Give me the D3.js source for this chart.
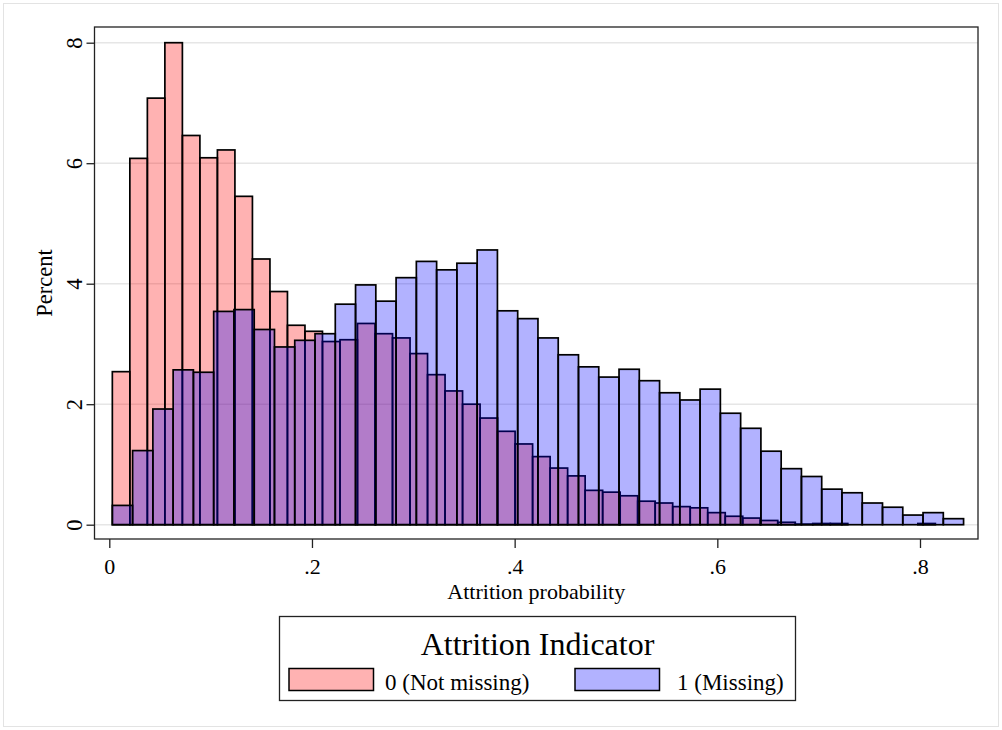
<!DOCTYPE html>
<html lang="en">
<head>
    <meta charset="UTF-8">
    <script src="https://cdn.jsdelivr.net/npm/d3@7"></script>
    <title>Attrition probability histogram</title>
    <style>
        body {
            margin: 0;
            background: white;
        }
        svg text {
            font-family: "Liberation Serif", "Times New Roman", serif;
            fill: black;
        }
    </style>
</head>
<body>
    <div class="fig"></div>

    <script>
        // histogram bins: start of first bin, bin width, percent in each bin
        const pinkStart = 0.003;
        const pinkWidth = 0.01728;
        const pinkPct = [2.54, 6.08, 7.08, 8.00, 6.46, 6.09, 6.22, 5.45, 4.41, 3.87,
            3.31, 3.21, 3.04, 3.07, 3.34, 3.17, 3.10, 2.84, 2.49, 2.22,
            2.00, 1.77, 1.55, 1.34, 1.13, 0.94, 0.81, 0.57, 0.54, 0.48,
            0.39, 0.36, 0.30, 0.28, 0.20, 0.14, 0.11, 0.07, 0.04, 0.01,
            0.02, 0.02, 0, 0, 0, 0, 0.02];

        const blueStart = 0.003;
        const blueWidth = 0.02;
        const bluePct = [0.32, 1.23, 1.92, 2.57, 2.53, 3.54, 3.57, 3.24, 2.95, 3.06,
            3.17, 3.66, 3.98, 3.71, 4.10, 4.37, 4.23, 4.34, 4.56, 3.55,
            3.42, 3.10, 2.82, 2.62, 2.45, 2.58, 2.39, 2.19, 2.07, 2.25,
            1.85, 1.60, 1.22, 0.93, 0.80, 0.59, 0.53, 0.36, 0.29, 0.16,
            0.20, 0.10];

        const xTicks = [0, 0.2, 0.4, 0.6, 0.8];
        const yTicks = [0, 2, 4, 6, 8];
        const legendTitle = "Attrition Indicator";
        const seriesNames = ["0 (Not missing)", "1 (Missing)"];

        const width = 1002, height = 730;
        const plot = {left: 94.5, right: 978, top: 27, bottom: 539};

        const svg = d3.select(".fig").append("svg")
            .attr("width", width)
            .attr("height", height);

        // outer graph border
        svg.append("rect")
            .attr("x", 3.5).attr("y", 3.5)
            .attr("width", width - 7).attr("height", height - 7)
            .attr("fill", "white")
            .attr("stroke", "#e3e3e3");

        const x = d3.scaleLinear().domain([0, 0.8]).range([109.3, 920]);
        const y = d3.scaleLinear().domain([0, 8]).range([524.7, 42.7]);

        // grid
        svg.append("g").selectAll("line")
            .data(yTicks)
            .enter()
            .append("line")
            .attr("x1", plot.left).attr("x2", plot.right)
            .attr("y1", d => y(d)).attr("y2", d => y(d))
            .attr("stroke", "#e6e6e6")
            .attr("stroke-width", 1.5);

        const toBins = (pct, start, w) => pct.map((v, i) => ({x0: start + i * w, x1: start + (i + 1) * w, v: v}))
            .filter(d => d.v > 0);

        const drawBars = (bins, color) => {
            svg.append("g").selectAll("rect")
                .data(bins)
                .enter()
                .append("rect")
                .attr("x", d => x(d.x0))
                .attr("width", d => x(d.x1) - x(d.x0))
                .attr("y", d => y(d.v))
                .attr("height", d => y(0) - y(d.v))
                .attr("fill", color)
                .attr("fill-opacity", 0.3)
                .attr("stroke", "black")
                .attr("stroke-width", 1.7);
        };

        drawBars(toBins(pinkPct, pinkStart, pinkWidth), "red");
        drawBars(toBins(bluePct, blueStart, blueWidth), "blue");

        // plot frame
        svg.append("rect")
            .attr("x", plot.left).attr("y", plot.top)
            .attr("width", plot.right - plot.left)
            .attr("height", plot.bottom - plot.top)
            .attr("fill", "none")
            .attr("stroke", "#222")
            .attr("stroke-width", 1.3);

        // x axis
        const xAxis = svg.append("g")
            .attr("transform", `translate(0,${plot.bottom})`)
            .call(d3.axisBottom(x).tickValues(xTicks).tickSize(9).tickPadding(10)
                .tickFormat(d => d === 0 ? "0" : d3.format(".1f")(d).replace(/^0/, "")));
        xAxis.select(".domain").remove();
        xAxis.selectAll(".tick line").attr("stroke", "#222").attr("stroke-width", 1.3);
        xAxis.selectAll("text").style("font-size", "22px");

        // y axis
        const yAxis = svg.append("g")
            .attr("transform", `translate(${plot.left},0)`)
            .call(d3.axisLeft(y).tickValues(yTicks).tickSize(8));
        yAxis.select(".domain").remove();
        yAxis.selectAll(".tick line").attr("stroke", "#222").attr("stroke-width", 1.3);
        yAxis.selectAll("text")
            .attr("transform", "rotate(-90)")
            .attr("x", 0).attr("y", -13).attr("dy", 0)
            .attr("text-anchor", "middle")
            .style("font-size", "22.5px");

        svg.append("text")
            .attr("x", (plot.left + plot.right) / 2)
            .attr("y", 599)
            .attr("text-anchor", "middle")
            .style("font-size", "22px")
            .text("Attrition probability");

        svg.append("text")
            .attr("transform", `translate(52,${(plot.top + plot.bottom) / 2}) rotate(-90)`)
            .attr("text-anchor", "middle")
            .style("font-size", "22.5px")
            .text("Percent");

        // legend
        const legend = svg.append("g");
        legend.append("rect")
            .attr("x", 279.5).attr("y", 616.5)
            .attr("width", 516).attr("height", 84)
            .attr("fill", "white")
            .attr("stroke", "#222")
            .attr("stroke-width", 1.3);
        legend.append("text")
            .attr("x", 537.5).attr("y", 655)
            .attr("text-anchor", "middle")
            .style("font-size", "32px")
            .text(legendTitle);

        const keys = [
            {name: seriesNames[0], color: "red", kx: 289, tx: 385},
            {name: seriesNames[1], color: "blue", kx: 575, tx: 677}
        ];
        keys.forEach(k => {
            legend.append("rect")
                .attr("x", k.kx).attr("y", 668.5)
                .attr("width", 84.5).attr("height", 22)
                .attr("fill", k.color)
                .attr("fill-opacity", 0.3)
                .attr("stroke", "black")
                .attr("stroke-width", 1.5);
            legend.append("text")
                .attr("x", k.tx).attr("y", 690)
                .style("font-size", "23px")
                .text(k.name);
        });
    </script>
</body>
</html>
